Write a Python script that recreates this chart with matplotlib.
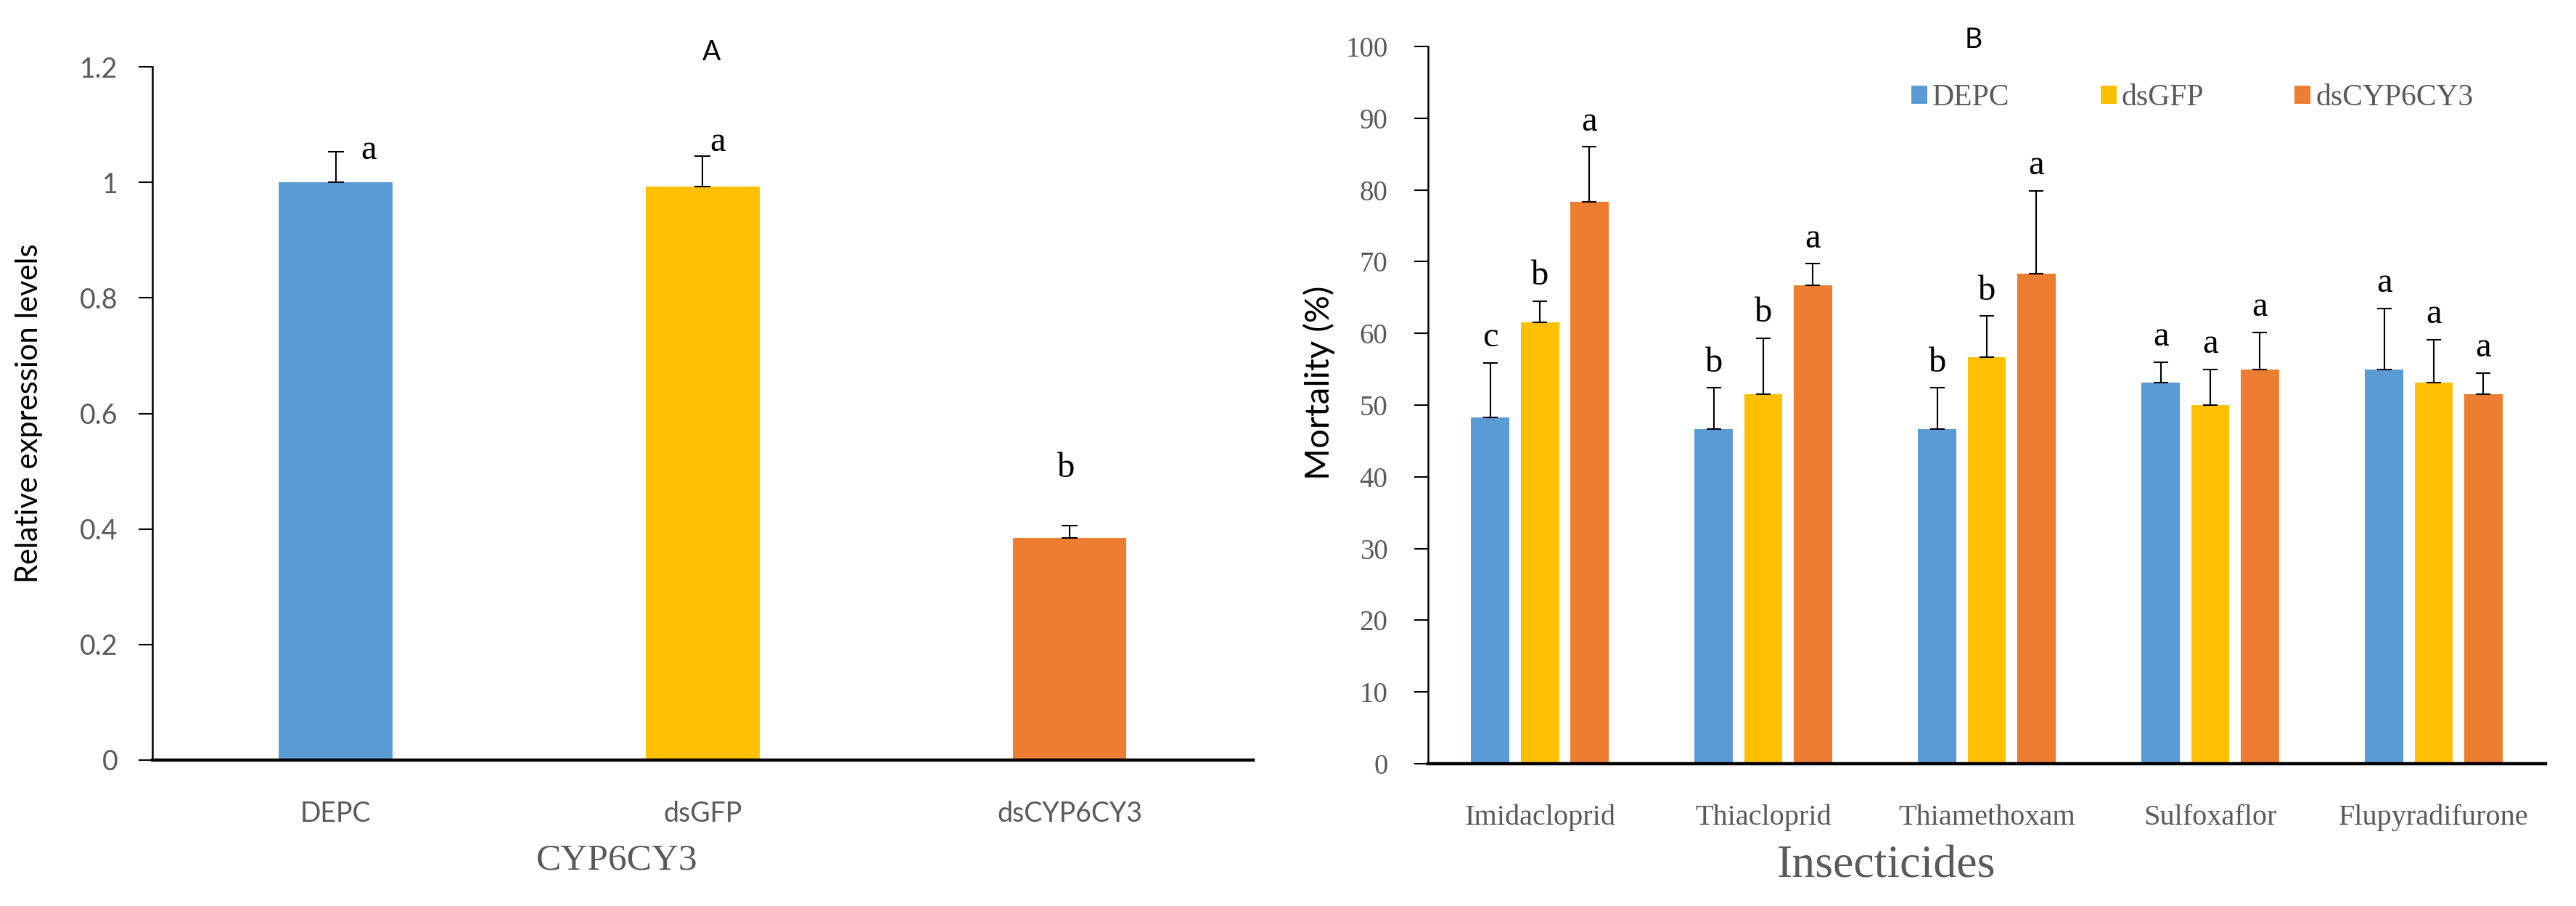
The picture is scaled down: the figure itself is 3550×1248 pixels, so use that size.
import numpy as np
import matplotlib
matplotlib.use('Agg')
import matplotlib.pyplot as plt
from matplotlib.patches import Patch

# panel A data
genes = ['DEPC', 'dsGFP', 'dsCYP6CY3']
expr = [1.0, 0.993, 0.384]
expr_err = [0.053, 0.053, 0.022]
expr_letters = ['a', 'a', 'b']

# panel B data
insecticides = ['Imidacloprid', 'Thiacloprid', 'Thiamethoxam', 'Sulfoxaflor', 'Flupyradifurone']
groups = ['DEPC', 'dsGFP', 'dsCYP6CY3']
mort_depc = [48.3, 46.7, 46.7, 53.1, 55.0]
mort_gfp = [61.5, 51.5, 56.7, 50.0, 53.1]
mort_cyp = [78.3, 66.7, 68.3, 55.0, 51.5]
err_depc = [7.6, 5.7, 5.7, 2.9, 8.5]
err_gfp = [3.0, 7.8, 5.7, 5.0, 6.0]
err_cyp = [7.7, 3.0, 11.6, 5.1, 3.0]
let_depc = ['c', 'b', 'b', 'a', 'a']
let_gfp = ['b', 'b', 'b', 'a', 'a']
let_cyp = ['a', 'a', 'a', 'a', 'a']

colors = ['#5B9BD5', '#FFC000', '#ED7D31']
grey = '#595959'
sans = ['Lato', 'DejaVu Sans']
serif = ['Liberation Serif', 'DejaVu Serif']

fig = plt.figure(figsize=(35.5, 12.48), dpi=100)

# ---- A ----
ax1 = fig.add_axes([0.05915, 0.16106, 0.4273, 0.7652])
x = np.arange(len(genes))
ax1.bar(x, expr, width=0.31, color=colors)
ax1.errorbar(x, expr, yerr=[np.zeros(3), expr_err], fmt='none', ecolor='black',
             elinewidth=1.5, capsize=8, capthick=1.5)
letter_dx = [0.09, 0.04, -0.01]
letter_y = [1.04, 1.054, 0.49]
for i in range(3):
    ax1.text(x[i] + letter_dx[i], letter_y[i], expr_letters[i], ha='center', va='baseline',
             fontsize=35, family=serif)
ax1.set_xlim(-0.5, 2.5)
ax1.set_ylim(0, 1.2)
ax1.set_yticks(np.arange(0, 1.21, 0.2))
ax1.set_yticklabels(['0', '0.2', '0.4', '0.6', '0.8', '1', '1.2'])
ax1.set_xticks(x)
ax1.set_xticklabels(genes)
ax1.tick_params(axis='y', length=14, width=1.5, pad=20, labelsize=27, labelcolor=grey)
ax1.tick_params(axis='x', length=0, pad=40, labelsize=27, labelcolor=grey)
for lab in ax1.get_xticklabels() + ax1.get_yticklabels():
    lab.set_family(sans)
ax1.spines['top'].set_visible(False)
ax1.spines['right'].set_visible(False)
ax1.spines['left'].set_linewidth(1.8)
ax1.spines['bottom'].set_linewidth(3.2)
ax1.set_ylabel('Relative expression levels', fontsize=30, family=sans)
ax1.yaxis.set_label_coords(-0.0995, 0.5)
ax1.text(0.422, -0.1445, 'CYP6CY3', transform=ax1.transAxes, ha='center', va='center',
         fontsize=37, family=serif, color=grey)
ax1.text(0.508, 1.021, 'A', transform=ax1.transAxes, ha='center', va='center',
         fontsize=27, family=sans)

# ---- B ----
ax2 = fig.add_axes([0.55437, 0.15705, 0.43380, 0.79167])
xb = np.arange(len(insecticides))
vals = [mort_depc, mort_gfp, mort_cyp]
errs = [err_depc, err_gfp, err_cyp]
lets = [let_depc, let_gfp, let_cyp]
offs = [-0.221, 0.0, 0.221]
for k in range(3):
    pos = xb + offs[k]
    ax2.bar(pos, vals[k], width=0.172, color=colors[k], label=groups[k])
    ax2.errorbar(pos, vals[k], yerr=[np.zeros(5), errs[k]], fmt='none', ecolor='black',
                 elinewidth=1.5, capsize=7, capthick=1.5)
    for i in range(5):
        ax2.text(pos[i], vals[k][i] + errs[k][i] + 2.3, lets[k][i], ha='center',
                 va='baseline', fontsize=35, family=serif)
ax2.set_xlim(-0.5, 4.5)
ax2.set_ylim(0, 100)
ax2.set_yticks(np.arange(0, 101, 10))
ax2.set_xticks(xb)
ax2.set_xticklabels(insecticides)
ax2.tick_params(axis='y', length=14, width=1.5, pad=26, labelsize=28, labelcolor=grey)
ax2.tick_params(axis='x', length=0, pad=40, labelsize=29, labelcolor=grey)
for lab in ax2.get_xticklabels() + ax2.get_yticklabels():
    lab.set_family(serif)
ax2.spines['top'].set_visible(False)
ax2.spines['right'].set_visible(False)
ax2.spines['left'].set_linewidth(1.8)
ax2.spines['bottom'].set_linewidth(3.2)
ax2.set_ylabel('Mortality (%)', fontsize=34, family=sans)
ax2.yaxis.set_label_coords(-0.083, 0.531)
ax2.text(0.410, -0.143, 'Insecticides', transform=ax2.transAxes, ha='center', va='center',
         fontsize=46, family=serif, color=grey)
ax2.text(0.488, 1.009, 'B', transform=ax2.transAxes, ha='center', va='center',
         fontsize=27, family=sans)
handles = [Patch(facecolor=c, edgecolor='none') for c in colors]
leg = ax2.legend(handles, groups, ncol=3, loc='center', bbox_to_anchor=(0.684, 0.928),
                 frameon=False, prop={'family': serif, 'size': 30},
                 handlelength=0.53, handleheight=0.53, handletextpad=0.17,
                 columnspacing=3.0, borderpad=0)
for t in leg.get_texts():
    t.set_color(grey)

fig.savefig('out.png', dpi=100)
